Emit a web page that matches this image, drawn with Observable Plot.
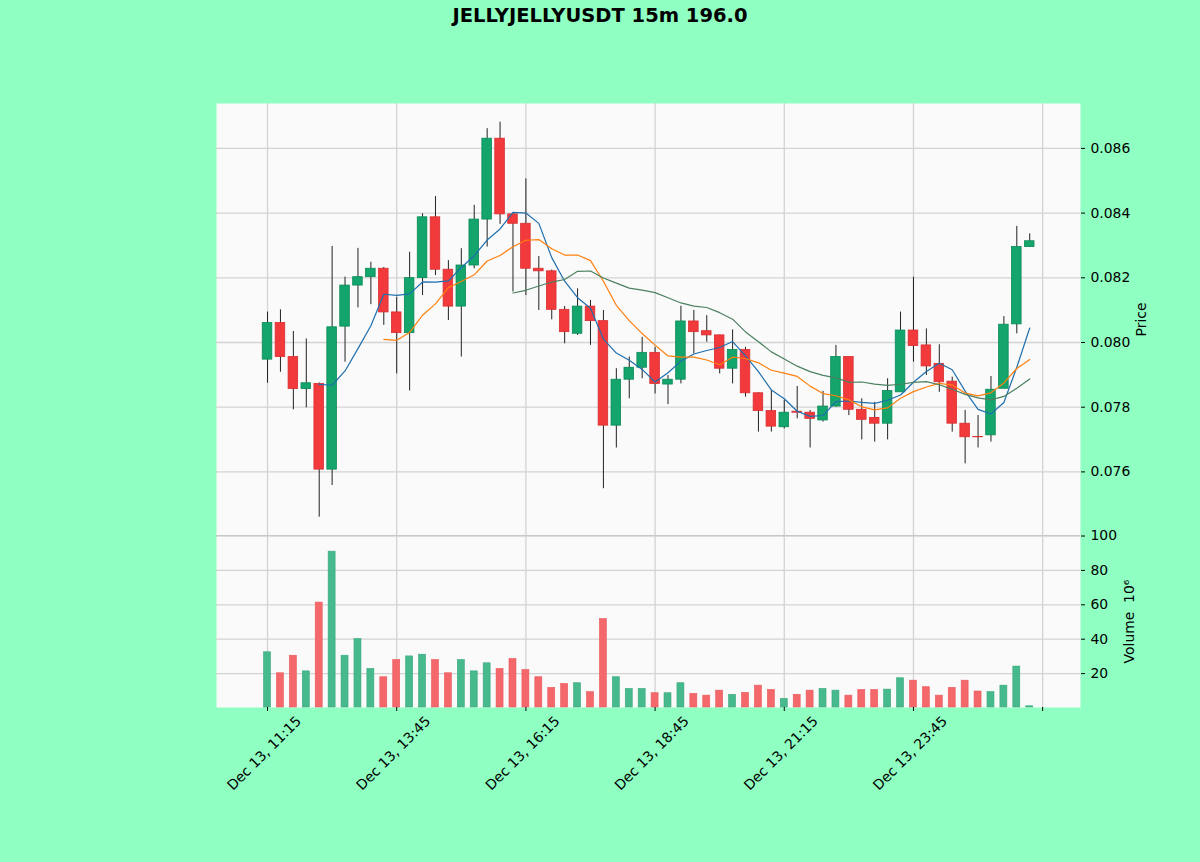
<!DOCTYPE html>
<html><head><meta charset="utf-8">
<script src="https://cdn.jsdelivr.net/npm/d3@7"></script>
<script src="https://cdn.jsdelivr.net/npm/@observablehq/plot@0.6"></script>
<style>
html,body{margin:0;padding:0;background:#8fffc2;}
#wrap{position:relative;width:1200px;height:862px;background:#8fffc2;font-family:"DejaVu Sans",sans-serif;overflow:hidden}
#title{position:absolute;top:5px;left:0;width:1200px;text-align:center;font-weight:bold;font-size:19.5px;color:#000;line-height:22px}
#price{position:absolute;left:0;top:0}
#vol{position:absolute;left:0;top:535px}
</style></head><body>
<div id="wrap"><div id="title">JELLYJELLYUSDT 15m 196.0</div><div id="price"></div><div id="vol"></div></div>
<script>
const opens  = [0.07947,0.08060,0.07955,0.07856,0.07872,0.07607,0.08049,0.08176,0.08202,0.08228,
                0.08093,0.08029,0.08199,0.08387,0.08225,0.08111,0.08238,0.08380,0.08630,0.08396,
                0.08367,0.08228,0.08220,0.08101,0.08027,0.08111,0.08066,0.07743,0.07885,0.07922,
                0.07968,0.07870,0.07885,0.08065,0.08035,0.08022,0.07919,0.07977,0.07843,0.07788,
                0.07738,0.07786,0.07783,0.07759,0.07802,0.07955,0.07792,0.07767,0.07749,0.07846,
                0.08037,0.07991,0.07934,0.07879,0.07749,0.07708,0.07713,0.07857,0.08056,0.08295];
const highs  = [0.08094,0.08101,0.08034,0.08011,0.07875,0.08297,0.08202,0.08291,0.08248,0.08232,
                0.08140,0.08279,0.08398,0.08451,0.08253,0.08290,0.08424,0.08661,0.08681,0.08400,
                0.08506,0.08266,0.08224,0.08111,0.08166,0.08130,0.08099,0.07919,0.07955,0.08016,
                0.07985,0.07898,0.08112,0.08099,0.08083,0.08023,0.08039,0.07985,0.07845,0.07852,
                0.07821,0.07864,0.07790,0.07849,0.07991,0.07956,0.07826,0.07815,0.07888,0.08094,
                0.08202,0.08042,0.07993,0.07893,0.07790,0.07774,0.07895,0.08080,0.08359,0.08336];
const lows   = [0.07874,0.07908,0.07792,0.07798,0.07460,0.07558,0.07939,0.08107,0.08117,0.08053,
                0.07903,0.07850,0.08145,0.08207,0.08068,0.07955,0.08228,0.08295,0.08365,0.08156,
                0.08145,0.08099,0.08070,0.07996,0.08022,0.07991,0.07548,0.07674,0.07826,0.07888,
                0.07841,0.07808,0.07872,0.07965,0.08001,0.07903,0.07872,0.07831,0.07723,0.07723,
                0.07733,0.07764,0.07674,0.07754,0.07800,0.07774,0.07699,0.07692,0.07699,0.07846,
                0.07939,0.07898,0.07846,0.07723,0.07625,0.07674,0.07692,0.07857,0.08027,0.08295];
const closes = [0.08060,0.07955,0.07856,0.07874,0.07607,0.08047,0.08176,0.08202,0.08228,0.08093,
                0.08029,0.08199,0.08387,0.08225,0.08111,0.08238,0.08380,0.08630,0.08396,0.08367,
                0.08228,0.08220,0.08101,0.08032,0.08111,0.08066,0.07743,0.07885,0.07922,0.07968,
                0.07872,0.07885,0.08065,0.08032,0.08022,0.07919,0.07977,0.07843,0.07788,0.07740,
                0.07783,0.07783,0.07764,0.07802,0.07955,0.07792,0.07761,0.07749,0.07850,0.08037,
                0.07989,0.07926,0.07877,0.07749,0.07707,0.07707,0.07854,0.08055,0.08295,0.08313];
const volumes = [32.4,20.2,30.4,21.3,61.3,90.9,30.4,40.1,22.7,17.9,
                 27.9,30.0,31.0,27.9,20.2,27.9,21.3,26.0,22.7,28.5,
                 22.1,17.9,11.7,14.0,14.4,9.2,51.7,17.9,11.1,11.1,
                 8.6,8.6,14.4,8.2,7.2,10.1,7.7,8.8,13.0,10.5,
                 5.3,7.7,10.1,11.1,10.1,7.2,10.5,10.5,10.7,17.3,
                 15.9,12.1,7.2,11.7,15.9,9.6,9.2,13.0,24.1,1.0];
const xTickPos = [0,10,20,30,40,50,60];
const xTickLabels = ["Dec 13, 11:15","Dec 13, 13:45","Dec 13, 16:15","Dec 13, 18:45","Dec 13, 21:15","Dec 13, 23:45",""];
const priceTicks = [0.076,0.078,0.080,0.082,0.084,0.086];
const volTicks = [20,40,60,80,100];
const maPeriods = [5,10,20];
const maColors = ["#1f6fae","#ff7f0e","#4b8060"];

const UP="#13a56c", UPE="#0b8a58", DN="#f23a3c", DNE="#d92d30";
const VUP="#46b98d", VDN="#f4676b";
const GRID="#d3d3d3";
const xDomain=[-3.95,62.93];
const priceDomain=[0.074034,0.087388];
const volDomain=[0.3,100.3];

const candles = opens.map((o,i)=>({i,o,h:highs[i],l:lows[i],c:closes[i],v:volumes[i],up:closes[i]>=o}));
const maLines = maPeriods.map((n,k)=>closes.map((c,i)=> i<n-1?null:{i,val:d3.mean(closes.slice(i-n+1,i+1)),k}).filter(d=>d));
const ticksX = xTickPos.map((p,j)=>({p,label:xTickLabels[j]}));

const style={background:"transparent",fontFamily:"DejaVu Sans",fontSize:"13.9px",color:"#000",overflow:"visible"};

const price = Plot.plot({
  width:1200,height:535,marginLeft:216,marginRight:120,marginTop:103,marginBottom:0,
  style,
  x:{domain:xDomain,axis:null},
  y:{domain:priceDomain,axis:null},
  marks:[
    Plot.frame({fill:"#fafafa",stroke:null}),
    Plot.gridX(xTickPos,{stroke:GRID,strokeOpacity:1,strokeWidth:1.3}),
    Plot.gridY(priceTicks,{stroke:GRID,strokeOpacity:1,strokeWidth:1.3}),
    Plot.axisY(priceTicks,{anchor:"right",tickFormat:d3.format(".3f"),tickSize:4,tickPadding:6,
      label:"Price",labelAnchor:"center",labelArrow:"none",labelOffset:65}),
    Plot.ruleX(candles,{x:"i",y1:"l",y2:"h",stroke:"#222",strokeWidth:1}),
    Plot.rect(candles,{x1:d=>d.i-0.37,x2:d=>d.i+0.37,y1:d=>Math.min(d.o,d.c),y2:d=>Math.max(d.o,d.c),
      fill:d=>d.up?UP:DN,stroke:d=>d.up?UPE:DNE,strokeWidth:0.8}),
    ...maLines.map((data,k)=>Plot.line(data,{x:"i",y:"val",stroke:maColors[k],strokeWidth:1.2}))
  ]
});
document.getElementById("price").append(price);

const vol = Plot.plot({
  width:1200,height:327,marginLeft:216,marginRight:120,marginTop:0,marginBottom:155,
  style,
  x:{domain:xDomain,axis:null},
  y:{domain:volDomain,axis:null},
  marks:[
    Plot.frame({fill:"#fafafa",stroke:null}),
    Plot.gridX(xTickPos,{stroke:GRID,strokeOpacity:1,strokeWidth:1.3}),
    Plot.gridY(volTicks,{stroke:GRID,strokeOpacity:1,strokeWidth:1.3}),
    Plot.ruleY([volDomain[1]],{stroke:"#c8c8c8",strokeWidth:1}),
    Plot.axisY(volTicks,{anchor:"right",tickSize:4,tickPadding:6,
      label:"Volume  10⁶",labelAnchor:"center",labelArrow:"none",labelOffset:53}),
    Plot.rect(candles,{x1:d=>d.i-0.27,x2:d=>d.i+0.27,y1:volDomain[0],y2:"v",
      fill:d=>d.up?VUP:VDN,stroke:d=>d.up?"#3aa87e":"#e85a5e",strokeWidth:0.6}),
    Plot.axisX(xTickPos,{anchor:"bottom",tickSize:4,tickFormat:()=>"",label:null}),
    Plot.text(ticksX,{x:"p",text:"label",frameAnchor:"bottom",rotate:-45,dy:49,textAnchor:"middle",fill:"#000"})
  ]
});
document.getElementById("vol").append(vol);
</script>
</body></html>
